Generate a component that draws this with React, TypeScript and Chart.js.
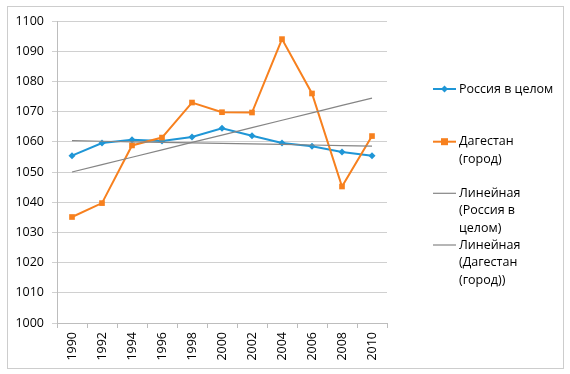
import React, { useEffect, useRef } from "react";
import { Chart, registerables } from "chart.js";

Chart.register(...registerables);

// ---- data ----
const years = ["1990", "1992", "1994", "1996", "1998", "2000", "2002", "2004", "2006", "2008", "2010"];
const russia = [1055.4, 1059.6, 1060.7, 1060.3, 1061.6, 1064.5, 1062.0, 1059.6, 1058.5, 1056.6, 1055.4];
const dagestan = [1035.1, 1039.7, 1058.8, 1061.4, 1073.0, 1069.8, 1069.7, 1094.0, 1076.0, 1045.2, 1061.9];
const yMin = 1000;
const yMax = 1100;
const yStep = 10;
const seriesNames = ["Россия в целом", "Дагестан (город)"];
const legendLines = [
  ["Россия в целом"],
  ["Дагестан", "(город)"],
  ["Линейная", "(Россия в", "целом)"],
  ["Линейная", "(Дагестан", "(город))"],
];

// linear trend (least squares) derived from a series
function linearTrend(values: number[]): number[] {
  const n = values.length;
  let sx = 0, sy = 0, sxx = 0, sxy = 0;
  values.forEach((v, i) => {
    sx += i; sy += v; sxx += i * i; sxy += i * v;
  });
  const b = (n * sxy - sx * sy) / (n * sxx - sx * sx);
  const a = (sy - b * sx) / n;
  return values.map((_, i) => a + b * i);
}

const BLUE = "#1f96d6";
const ORANGE = "#f7801e";
const TREND = "#858585";
const FONT = "'Open Sans', 'DejaVu Sans', sans-serif";

const legendPlugin = {
  id: "customLegend",
  afterDraw(chart: any) {
    const ctx = chart.ctx as CanvasRenderingContext2D;
    const lineX0 = 433;
    const lineX1 = 456;
    const textX = 459;
    const lineH = 17.5;
    const firstY = [89, 141.7, 193.3, 245];
    const colors = [BLUE, ORANGE, TREND, TREND];
    ctx.save();
    ctx.font = `12.5px ${FONT}`;
    ctx.textBaseline = "middle";
    ctx.fillStyle = "#000";
    legendLines.forEach((lines, i) => {
      const y = firstY[i];
      ctx.strokeStyle = colors[i];
      ctx.lineWidth = i < 2 ? 2 : 1.2;
      ctx.beginPath();
      ctx.moveTo(lineX0, y);
      ctx.lineTo(lineX1, y);
      ctx.stroke();
      const cx = (lineX0 + lineX1) / 2;
      ctx.fillStyle = colors[i];
      if (i === 0) {
        ctx.beginPath();
        ctx.moveTo(cx, y - 3.5);
        ctx.lineTo(cx + 3.5, y);
        ctx.lineTo(cx, y + 3.5);
        ctx.lineTo(cx - 3.5, y);
        ctx.closePath();
        ctx.fill();
      } else if (i === 1) {
        ctx.fillRect(cx - 3.5, y - 3.5, 7, 7);
      }
      ctx.fillStyle = "#000";
      lines.forEach((t, j) => {
        ctx.fillText(t, textX, y + j * lineH);
      });
    });
    ctx.restore();
  },
};

export default function App() {
  const ref = useRef<HTMLCanvasElement | null>(null);

  useEffect(() => {
    if (!ref.current) return;
    const chart = new Chart(ref.current, {
      type: "line",
      data: {
        labels: years,
        datasets: [
          {
            label: seriesNames[0],
            data: russia,
            borderColor: BLUE,
            backgroundColor: BLUE,
            borderWidth: 2,
            pointStyle: "rectRot",
            pointRadius: 3.5,
            pointBorderWidth: 0,
            order: 2,
          },
          {
            label: seriesNames[1],
            data: dagestan,
            borderColor: ORANGE,
            backgroundColor: ORANGE,
            borderWidth: 2,
            pointStyle: "rect",
            pointRadius: 4,
            pointBorderWidth: 0,
            order: 1,
          },
          {
            label: "Линейная (" + seriesNames[0] + ")",
            data: linearTrend(russia),
            borderColor: TREND,
            borderWidth: 1.2,
            pointRadius: 0,
            order: 0,
          },
          {
            label: "Линейная (" + seriesNames[1] + ")",
            data: linearTrend(dagestan),
            borderColor: TREND,
            borderWidth: 1.2,
            pointRadius: 0,
            order: 0,
          },
        ],
      },
      options: {
        animation: false,
        responsive: false,
        maintainAspectRatio: false,
        layout: { padding: { left: 8, right: 183, top: 21, bottom: 0 } },
        plugins: {
          legend: { display: false },
          tooltip: { enabled: false },
        },
        scales: {
          x: {
            offset: true,
            afterFit: (s: any) => {
              s.height = 51;
            },
            grid: {
              offset: true,
              drawOnChartArea: false,
              drawTicks: true,
              tickLength: 5,
              color: "#bdbdbd",
            },
            border: { color: "#bdbdbd", width: 1 },
            ticks: {
              minRotation: 90,
              maxRotation: 90,
              padding: 4,
              color: "#000",
              font: { family: FONT, size: 12.5 },
              autoSkip: false,
            },
          },
          y: {
            min: yMin,
            max: yMax,
            afterFit: (s: any) => {
              s.width = 49;
            },
            grid: {
              color: "#d0d0d0",
              drawTicks: true,
              tickLength: 5,
              lineWidth: 1,
            },
            border: { color: "#bdbdbd", width: 1 },
            ticks: {
              stepSize: yStep,
              padding: 8,
              color: "#000",
              font: { family: FONT, size: 12.5 },
              callback: (v: any) => String(v),
            },
          },
        },
      },
      plugins: [legendPlugin],
    });
    return () => chart.destroy();
  }, []);

  return (
    <div style={{ position: "absolute", left: 0, top: 0, width: 570, height: 374, background: "#fff" }}>
      <canvas ref={ref} width={570} height={374} style={{ position: "absolute", left: 0, top: 0, width: 570, height: 374 }} />
      <div
        style={{
          position: "absolute",
          left: 7,
          top: 6,
          width: 555,
          height: 361,
          border: "1px solid #cdcdcd",
          pointerEvents: "none",
        }}
      />
    </div>
  );
}
